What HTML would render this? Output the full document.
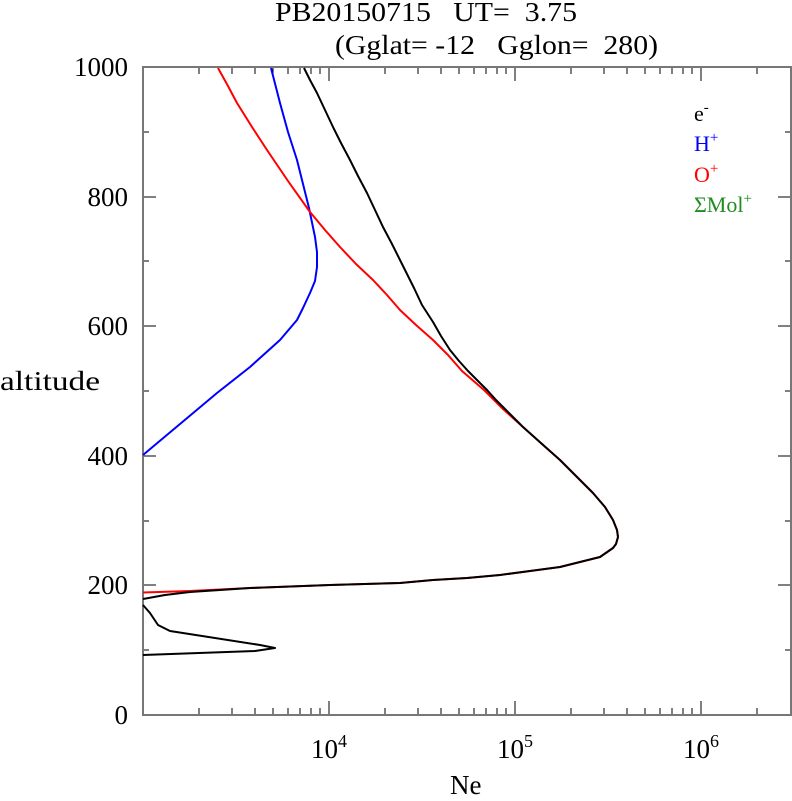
<!DOCTYPE html>
<html><head><meta charset="utf-8"><style>
body{margin:0;background:#fff;width:792px;height:796px;overflow:hidden}
svg{font-family:"Liberation Serif",serif}
</style></head><body>
<svg width="792" height="796" viewBox="0 0 792 796" xmlns="http://www.w3.org/2000/svg">
<text x="275" y="21" font-size="27" textLength="302" lengthAdjust="spacingAndGlyphs" xml:space="preserve">PB20150715   UT=  3.75</text>
<text x="335" y="54" font-size="27" textLength="323" lengthAdjust="spacingAndGlyphs" xml:space="preserve">(Gglat= -12   Gglon=  280)</text>
<g stroke="#000" stroke-width="1" fill="none">
<path d="M143 715h13M143 585h13M143 456h13M143 326h13M143 197h13M143 67h13
M143 650h6M143 521h6M143 391h6M143 261h6M143 132h6
M791 715h-13M791 585h-13M791 456h-13M791 326h-13M791 197h-13M791 67h-13
M791 650h-6M791 521h-6M791 391h-6M791 261h-6M791 132h-6"/>
<path d="M329 715v-14M515 715v-14M701 715v-14M329 67v14M515 67v14M701 67v14
M199 715v-7M232 715v-7M255 715v-7M273 715v-7M288 715v-7M300 715v-7M311 715v-7M320 715v-7
M385 715v-7M418 715v-7M441 715v-7M459 715v-7M474 715v-7M486 715v-7M497 715v-7M506 715v-7
M571 715v-7M604 715v-7M627 715v-7M645 715v-7M660 715v-7M672 715v-7M683 715v-7M692 715v-7
M757 715v-7
M199 67v7M232 67v7M255 67v7M273 67v7M288 67v7M300 67v7M311 67v7M320 67v7
M385 67v7M418 67v7M441 67v7M459 67v7M474 67v7M486 67v7M497 67v7M506 67v7
M571 67v7M604 67v7M627 67v7M645 67v7M660 67v7M672 67v7M683 67v7M692 67v7
M757 67v7"/>
</g>
<rect x="143" y="67" width="648" height="648" fill="none" stroke="#777" stroke-width="2"/>
<g font-size="27" text-anchor="end">
<text x="128" y="724">0</text><text x="128" y="594">200</text><text x="128" y="465">400</text>
<text x="128" y="335">600</text><text x="128" y="206">800</text><text x="128" y="76">1000</text>
</g>
<text x="0" y="390" font-size="27" textLength="100" lengthAdjust="spacingAndGlyphs">altitude</text>
<g font-size="27">
<text x="311" y="758">10<tspan font-size="18" dy="-11">4</tspan></text>
<text x="497" y="758">10<tspan font-size="18" dy="-11">5</tspan></text>
<text x="683" y="758">10<tspan font-size="18" dy="-11">6</tspan></text>
<text x="450" y="794">Ne</text>
</g>
<g font-size="22">
<text x="694" y="121">e<tspan font-size="15" dy="-9">-</tspan></text>
<text x="694" y="151" fill="#0000ff">H<tspan font-size="15" dy="-9">+</tspan></text>
<text x="694" y="182" fill="#ff0000">O<tspan font-size="15" dy="-9">+</tspan></text>
<text x="694" y="212" fill="#228b22">ΣMol<tspan font-size="15" dy="-9">+</tspan></text>
</g>
<g fill="none" stroke-width="2" stroke-linejoin="round">
<polyline stroke="#0000ff" points="271,68 280,103 288,132 297,160 303,184 309,208 315,237 317,252 317,267 315,281 310,293 303,308 297,320 280,340 250,367 217,393 180,424 143,455"/>
<polyline stroke="#ff0000" points="218,68 228,86 237,103 252,127 267,150 288,181 310,212 325,230 340,247 356,264 373,280 387,295 400,310 416,325 433,340 448,355 462,371 484,390 503,409 523,427 542,444 560,460 577,477 593,493 605,507 613,520 617,530 618,537 616,544 613,548 600,557 580,562 560,567 530,571 500,575 467,578 433,580 400,583 330,585 250,588 190,591 143,592.5"/>
<polyline stroke="#000" points="304,68 310,80 317,93 325,110 333,127 341,143 350,160 358,176 367,193 375,210 383,227 392,244 400,260 407,274 414,288 422,305 433,322 441,336 450,350 459,361 468,371 478,381 487,390 496,400 505,409 514,418 523,427 542,444 560,460 577,477 593,493 605,507 613,520 617,530 618,537 616,544 613,548 600,557 580,562 560,567 530,571 500,575 467,578 433,580 400,583 330,585 250,588 190,592 165,595 143,599"/>
<polyline stroke="#000" points="143,605 150,613 158,625 170,631 260,645 275,648 255,651 143,655"/>
</g>
</svg>
</body></html>
